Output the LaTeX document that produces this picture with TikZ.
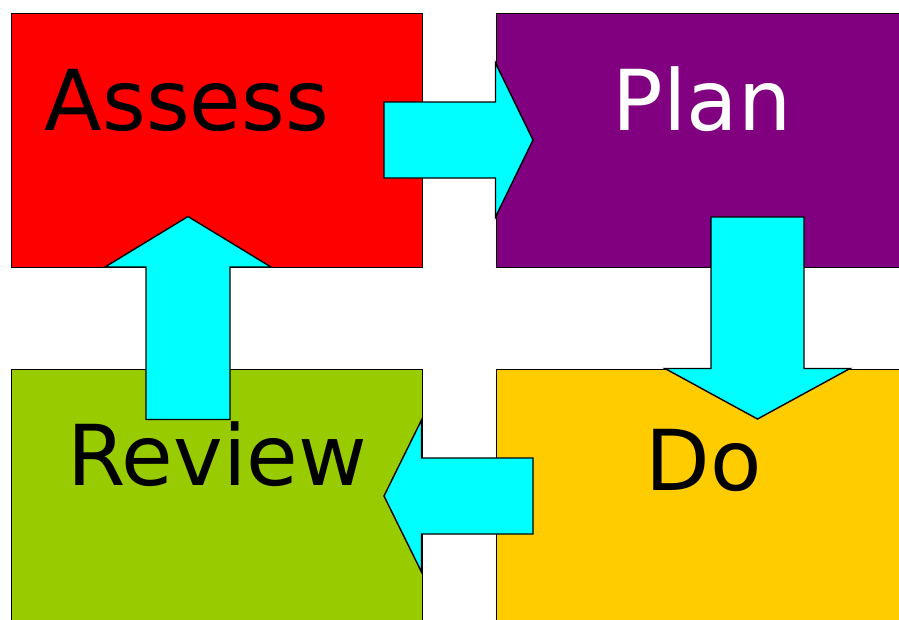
\documentclass[tikz,border=0pt]{standalone}
\usepackage{fontspec}
\usetikzlibrary{positioning}
\newfontfamily\stagefont{DejaVu Sans}
\definecolor{assessred}{rgb}{1,0,0}
\definecolor{planpurple}{rgb}{0.5,0,0.5}
\definecolor{dogold}{rgb}{1,0.8,0}
\definecolor{reviewgreen}{rgb}{0.6,0.8,0}
\definecolor{arrowcyan}{rgb}{0,1,1}

\begin{document}
\begin{tikzpicture}
  [x=1pt,y=-1pt,
   stageBox/.style={draw,anchor=north west,inner sep=0pt,line width=1.4pt},
   stageText/.style={anchor=base,inner sep=0pt,font=\stagefont\fontsize{84}{90}\selectfont},
   blockArrow/.style={draw,fill=arrowcyan,line width=1.4pt,line join=miter},
  ]

 \clip (0,0) rectangle (899,619);

 % the four stages
 \node[stageBox,fill=assessred,minimum width=411pt,minimum height=254.5pt]   (assess) at (10.5,12.5)  {};
 \node[stageBox,fill=planpurple,minimum width=460pt,minimum height=254.5pt]  (plan)   at (495.5,12.5) {};
 \node[stageBox,fill=reviewgreen,minimum width=411pt,minimum height=280pt]   (review) at (10.5,368.5) {};
 \node[stageBox,fill=dogold,minimum width=460pt,minimum height=280pt]        (do)     at (495.5,368.5) {};

 % arrows between them
 \draw[blockArrow] (384,102) -- (495.5,102) -- (495.5,63) -- (533,140)
   -- (495.5,217) -- (495.5,178) -- (384,178) -- cycle;
 \draw[blockArrow] (711,217) -- (804,217) -- (804,368.5) -- (850,368.5)
   -- (757.5,419) -- (665,368.5) -- (711,368.5) -- cycle;
 \draw[blockArrow] (533,458) -- (421.5,458) -- (421.5,420) -- (384,496)
   -- (421.5,572) -- (421.5,534) -- (533,534) -- cycle;
 \draw[blockArrow] (146,419.5) -- (146,267) -- (105,267) -- (188,216.5)
   -- (271,267) -- (230,267) -- (230,419.5) -- cycle;

 % labels
 \node[stageText]       (assessText) at (187,130) {Assess};
 \node[stageText,white] (planText)   at (702,130) {Plan};
 \node[stageText]       (reviewText) at (217,485) {Review};
 \node[stageText]       (doText)     at (704,490) {Do};

\end{tikzpicture}
\end{document}
